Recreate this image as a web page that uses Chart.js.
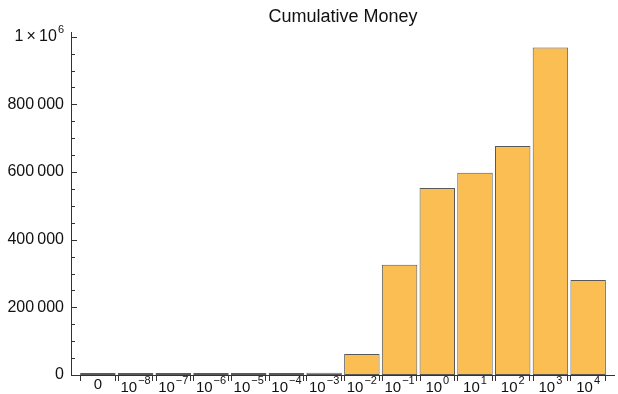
<!DOCTYPE html>
<html>
<head>
<meta charset="utf-8">
<script src="https://cdn.jsdelivr.net/npm/chart.js@4"></script>
<style>
  html, body { margin: 0; padding: 0; background: #fff; }
  #wrap { width: 618px; height: 394px; }
</style>
</head>
<body>
<div id="wrap"><canvas id="moneyChart" width="618" height="394"></canvas></div>
<script>
// chart data
const categories = ['0', '10^-8', '10^-7', '10^-6', '10^-5', '10^-4', '10^-3', '10^-2', '10^-1', '10^0', '10^1', '10^2', '10^3', '10^4'];
const money = [0, 0, 0, 0, 0, 0, 7000, 62000, 326000, 553000, 598000, 677000, 968000, 281000];
const yTicks = [0, 200000, 400000, 600000, 800000, 1000000];
const yMinorTicks = [50000, 100000, 150000, 250000, 300000, 350000, 450000, 500000, 550000, 650000, 700000, 750000, 850000, 900000, 950000];
const chartTitle = 'Cumulative Money';

const FONT = '"Liberation Sans", Arial, sans-serif';

function formatY(v) {
    if (v === 1000000) return ['1\u2009×\u200910', '6'];
    if (v === 0) return ['0', ''];
    const s = String(v);
    return [s.slice(0, s.length - 3) + '\u2009' + s.slice(-3), ''];
}

// draws base text with an optional superscript, aligned by anchor
function drawPower(ctx, base, exp, x, y, align, size) {
    ctx.font = size + 'px ' + FONT;
    const wb = ctx.measureText(base).width;
    ctx.font = '11px ' + FONT;
    const we = exp ? ctx.measureText(exp).width + 1 : 0;
    const total = wb + we;
    let left = x;
    if (align === 'center') left = x - total / 2;
    if (align === 'right') left = x - total;
    ctx.textAlign = 'left';
    ctx.textBaseline = 'middle';
    ctx.font = size + 'px ' + FONT;
    ctx.fillText(base, left, y);
    if (exp) {
        ctx.font = '11px ' + FONT;
        ctx.fillText(exp, left + wb + 1, y - 7);
    }
}

const axesPlugin = {
    id: 'mmaAxes',
    afterDraw(chart) {
        const ctx = chart.ctx;
        const area = chart.chartArea;
        const yScale = chart.scales.y;
        const meta = chart.getDatasetMeta(0);
        const axisX = area.left - 8;
        const axisY = yScale.getPixelForValue(0);

        ctx.save();
        ctx.strokeStyle = '#333';
        ctx.lineWidth = 1;

        // axis lines
        ctx.beginPath();
        ctx.moveTo(axisX + 0.5, area.top);
        ctx.lineTo(axisX + 0.5, axisY + 1);
        ctx.moveTo(axisX, axisY + 0.5);
        ctx.lineTo(area.right + 8, axisY + 0.5);
        ctx.stroke();

        // y ticks
        ctx.beginPath();
        yTicks.forEach(v => {
            const py = Math.round(yScale.getPixelForValue(v)) + 0.5;
            ctx.moveTo(axisX, py);
            ctx.lineTo(axisX + 6, py);
        });
        yMinorTicks.forEach(v => {
            const py = Math.round(yScale.getPixelForValue(v)) + 0.5;
            ctx.moveTo(axisX, py);
            ctx.lineTo(axisX + 4, py);
        });
        ctx.stroke();

        // x ticks at bar edges
        ctx.beginPath();
        meta.data.forEach(bar => {
            const l = Math.round(bar.x - bar.width / 2) + 0.5;
            const r = Math.round(bar.x + bar.width / 2) - 0.5;
            ctx.moveTo(l, axisY);
            ctx.lineTo(l, axisY + 6);
            ctx.moveTo(r, axisY);
            ctx.lineTo(r, axisY + 6);
        });
        ctx.stroke();

        ctx.fillStyle = '#111';
        // y labels
        yTicks.forEach(v => {
            const parts = formatY(v);
            drawPower(ctx, parts[0], parts[1], axisX - 7, yScale.getPixelForValue(v), 'right', 16);
        });
        // x labels
        meta.data.forEach((bar, i) => {
            const p = categories[i].split('^');
            const exp = p[1] ? p[1].replace('-', '\u2212') : '';
            drawPower(ctx, p[0], exp, bar.x, axisY + (exp ? 13 : 10), 'center', 15);
        });

        // title
        ctx.font = '18px ' + FONT;
        ctx.textAlign = 'center';
        ctx.textBaseline = 'middle';
        ctx.fillText(chartTitle, (area.left + area.right) / 2, 17);
        ctx.restore();
    }
};

new Chart(document.getElementById('moneyChart').getContext('2d'), {
    type: 'bar',
    data: {
        labels: categories,
        datasets: [{
            data: money,
            backgroundColor: 'rgb(251, 190, 83)',
            borderColor: 'rgba(60, 60, 60, 0.85)',
            borderWidth: 1,
            borderSkipped: false,
            minBarLength: 2,
            categoryPercentage: 1,
            barPercentage: 0.94
        }]
    },
    options: {
        responsive: false,
        animation: false,
        layout: { padding: { left: 71, right: 11, top: 32, bottom: 11 } },
        plugins: {
            legend: { display: false },
            title: { display: false },
            tooltip: { enabled: false }
        },
        scales: {
            x: {
                offset: true,
                grid: { display: false },
                border: { display: false },
                ticks: { display: false }
            },
            y: {
                min: 0,
                max: 1014000,
                grid: { display: false },
                border: { display: false },
                ticks: { display: false }
            }
        }
    },
    plugins: [axesPlugin]
});
</script>
</body>
</html>
